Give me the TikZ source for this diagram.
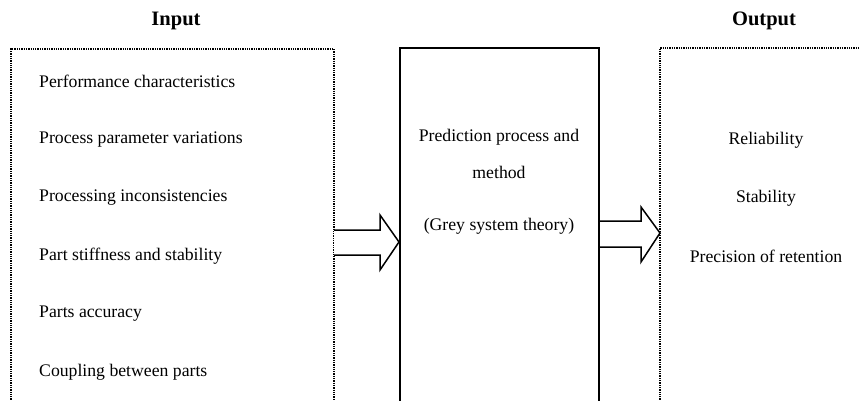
\documentclass[tikz,border=0pt]{standalone}
\usepackage{fontspec}
\setmainfont{Liberation Serif}
\begin{document}
\begin{tikzpicture}[x=1pt,y=-1pt,
  dotbox/.style={line width=1.6pt,dash pattern=on 1.3pt off 1.0pt},
  solidbox/.style={line width=1.5pt},
  blockarrow/.style={line width=1.5pt,fill=white,line join=miter},
  item/.style={anchor=west,inner sep=0pt,font=\fontsize{17.7}{20}\selectfont},
  citem/.style={inner sep=0pt,font=\fontsize{17.7}{20}\selectfont},
  title/.style={inner sep=0pt,font=\fontsize{20.5}{24}\selectfont\bfseries}]
\useasboundingbox (0,0) rectangle (860,401);
% boxes
\draw[dotbox] (11,402) -- (11,49) -- (334,49) -- (334,402);
\draw[solidbox] (400,402) -- (400,48) -- (599,48) -- (599,402);
\draw[dotbox] (660,402) -- (660,48) -- (861,48);
% titles
\node[title] (tin) at (176,21) {Input};
\node[title] (tout) at (764,21) {Output};
% input items
\node[item] (i1) at (39,81) {Performance characteristics};
\node[item] (i2) at (39,140) {Process parameter variations};
\node[item] (i3) at (39,198) {Processing inconsistencies};
\node[item] (i4) at (39,256) {Part stiffness and stability};
\node[item] (i5) at (39,314) {Parts accuracy};
\node[item] (i6) at (39,372) {Coupling between parts};
% middle
\node[citem] (m1) at (499,137) {Prediction process and};
\node[citem] (m2) at (499,172) {method};
\node[citem] (m3) at (499,226) {(Grey system theory)};
% output
\node[citem] (o1) at (766,140) {Reliability};
\node[citem] (o2) at (766,198) {Stability};
\node[citem] (o3) at (766,256) {Precision of retention};
% arrows
\draw[blockarrow] (334,230) -- (380,230) -- (380,215) -- (399,242) -- (380,270) -- (380,255) -- (334,255);
\draw[blockarrow] (600,221) -- (641,221) -- (641,207) -- (660,233) -- (641,262) -- (641,247) -- (600,247);
\end{tikzpicture}
\end{document}
